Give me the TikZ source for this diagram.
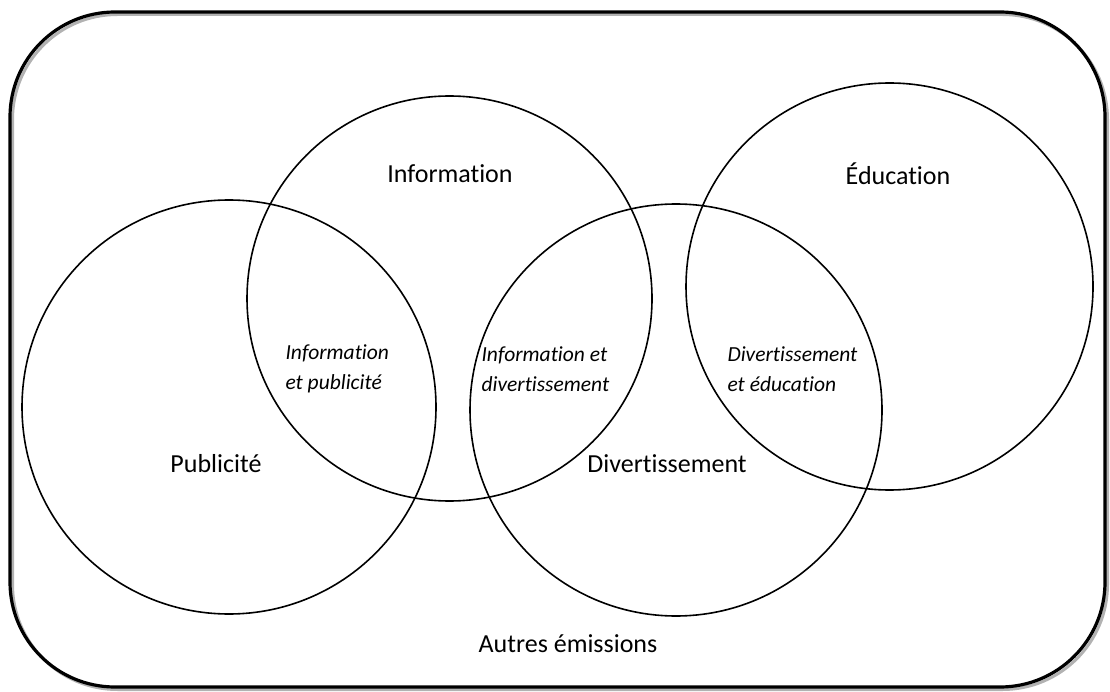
\documentclass[tikz,border=0pt]{standalone}
\usepackage{fontspec}
\setmainfont{Carlito}[Ligatures={NoCommon,NoContextual}]
\usepackage{tikz}

\tikzset{
  venn/.style={draw, circle, line width=1.6pt, inner sep=0pt},
  Main/.style={font=\fontsize{26}{31}\selectfont},
  Inter/.style={font=\fontsize{21.5}{30}\selectfont\itshape, align=left, anchor=west}
}

\begin{document}
\begin{tikzpicture}[x=1pt,y=-1pt]
\useasboundingbox (0,0) rectangle (1110,692);
\draw[gray!60, line width=3pt, rounded corners=105pt](12.5,14.5) rectangle (1107.5,689.5);
\draw[black, line width=3.2pt, rounded corners=105pt](10,12) rectangle (1105,687);
\node[venn, minimum size=414pt] (Pub) at (229,407){};
\node[venn, minimum size=405pt] (Info) at (449.5,298.5){};
\node[venn, minimum size=412pt] (Div) at (676,410){};
\node[venn, minimum size=407pt] (Edu) at (889.5,286.5){};
\node[Main] (LabelInfo) at (450,174){Information};
\node[Main] (LabelEdu) at (898,174){Éducation};
\node[Main] (LabelPub) at (216,464){Publicité};
\node[Main] (LabelDiv) at (667,464){Divertissement};
\node[Main] (LabelAutres) at (568,644){Autres émissions};
\node[Inter] (InfoPub) at (282,369){Information\\et publicité};
\node[Inter] (InfoDiv) at (478,369){Information et\\divertissement};
\node[Inter] (DivEdu) at (724,369){Divertissement\\et éducation};
\end{tikzpicture}
\end{document}
